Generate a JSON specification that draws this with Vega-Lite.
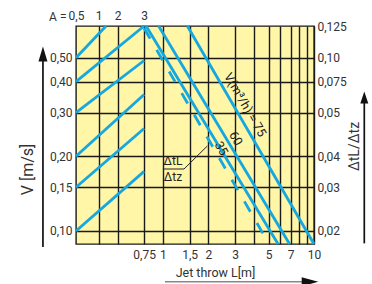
{
  "$schema": "https://vega.github.io/schema/vega-lite/v6.json",
  "width": 238,
  "height": 218,
  "autosize": {"type": "none"},
  "padding": {"left": 76, "top": 26, "right": 58, "bottom": 40},
  "background": "#ffffff",
  "config": {
    "view": {"fill": "#fff6a8", "stroke": "#1a1a1a", "strokeWidth": 1.4},
    "axis": {
      "labelFont": "Roboto", "titleFont": "Roboto", "labelColor": "#333333", "titleColor": "#333333",
      "labelFontSize": 12, "domain": false, "ticks": false, "tickSize": 0, "labelFlush": false,
      "labelOverlap": false, "titleFontWeight": "normal", "gridColor": "#1a1a1a", "gridWidth": 1.4, "gridOpacity": 1
    },
    "text": {"font": "Roboto"}
  },
  "datasets": {
    "rising": [
      {"id": "r1", "L": 0.2655, "V": 0.5}, {"id": "r1", "L": 0.42, "V": 0.671},
      {"id": "r2", "L": 0.2655, "V": 0.4}, {"id": "r2", "L": 0.75, "V": 0.671},
      {"id": "r3", "L": 0.2655, "V": 0.3}, {"id": "r3", "L": 0.75, "V": 0.487},
      {"id": "r4", "L": 0.2655, "V": 0.2}, {"id": "r4", "L": 0.75, "V": 0.355},
      {"id": "r5", "L": 0.2655, "V": 0.15}, {"id": "r5", "L": 0.75, "V": 0.259},
      {"id": "r6", "L": 0.2655, "V": 0.1}, {"id": "r6", "L": 0.75, "V": 0.174}
    ],
    "falling": [
      {"id": "a", "L": 0.773, "V": 0.671}, {"id": "a", "L": 5.78, "V": 0.0886},
      {"id": "60", "L": 0.936, "V": 0.671}, {"id": "60", "L": 6.89, "V": 0.0886},
      {"id": "75", "L": 1.45, "V": 0.671}, {"id": "75", "L": 10, "V": 0.0886}
    ],
    "dashed": [{"id": "35", "L": 0.75, "V": 0.657}, {"id": "35", "L": 5.02, "V": 0.089}],
    "leader": [{"L": 0.998, "V": 0.1778}, {"L": 1.378, "V": 0.1778}, {"L": 1.966, "V": 0.2201}],
    "rot": [
      {"t": "V(m³/h) = 75", "L": 3.5, "V": 0.3225},
      {"t": "60", "L": 3.03, "V": 0.236},
      {"t": "35", "L": 2.43, "V": 0.215}
    ],
    "frac": [{"t": "ΔtL", "L": 1.165, "V": 0.1915}, {"t": "Δtz", "L": 1.165, "V": 0.165}],
    "arrows": [
      {"id": "left", "L": 0.1604, "V": 0.4846}, {"id": "left", "L": 0.1604, "V": 0.0861},
      {"id": "right", "L": 21.53, "V": 0.3282}, {"id": "right", "L": 21.53, "V": 0.0891}
    ],
    "baseline": [{"id": "bottom", "L": 1.031, "V": 0.0624}, {"id": "bottom", "L": 8.33, "V": 0.0624}],
    "headLeft": [{"L": 0.1604, "V": 0.5173}],
    "headRight": [{"L": 21.53, "V": 0.3453}],
    "headBottom": [{"L": 9.408, "V": 0.0624}]
  },
  "encoding": {
    "x": {"field": "L", "type": "quantitative", "scale": {"type": "log", "domain": [0.2655, 10], "nice": false, "zero": false}, "axis": null},
    "y": {"field": "V", "type": "quantitative", "scale": {"type": "log", "domain": [0.0886, 0.671], "nice": false, "zero": false}, "axis": null}
  },
  "layer": [
    {
      "data": {"name": "rising"},
      "mark": {"type": "line", "color": "#14a7e0", "strokeWidth": 2.8},
      "encoding": {
        "detail": {"field": "id"},
        "x": {"field": "L", "type": "quantitative", "scale": {"type": "log", "domain": [0.2655, 10], "nice": false, "zero": false},
          "axis": {"orient": "bottom", "values": [0.375, 0.5, 0.75, 1, 1.5, 2, 3, 4, 5, 6, 7, 8, 9, 10], "grid": true,
            "labelExpr": "indexof([0.75,1,1.5,2,3,5,7,10], datum.value) >= 0 ? replace(toString(datum.value), '.', ',') : ''",
            "labelPadding": 5, "title": "Jet throw L[m]", "titleFontSize": 12.5, "titleX": 139, "titleY": 28,
            "titleAlign": "center", "titleBaseline": "middle"}},
        "y": {"field": "V", "type": "quantitative", "scale": {"type": "log", "domain": [0.0886, 0.671], "nice": false, "zero": false},
          "axis": {"orient": "left", "values": [0.1, 0.15, 0.2, 0.3, 0.4, 0.5], "grid": true,
            "labelExpr": "replace(format(datum.value, '.2f'), '.', ',')", "labelPadding": 4,
            "title": "V [m/s]", "titleFontSize": 16, "titleX": -49, "titleY": 143, "titleAngle": -90,
            "titleAlign": "center", "titleBaseline": "middle"}}
      }
    },
    {
      "data": {"name": "falling"},
      "mark": {"type": "line", "color": "#14a7e0", "strokeWidth": 2.8},
      "encoding": {
        "detail": {"field": "id"},
        "x": {"field": "L", "type": "quantitative", "scale": {"type": "log", "domain": [0.2655, 10], "nice": false, "zero": false},
          "axis": {"orient": "top", "values": [0.2655, 0.375, 0.5, 0.75], "grid": false,
            "labelExpr": "datum.value < 0.3 ? '0,5' : datum.value < 0.4 ? '1' : datum.value < 0.6 ? '2' : '3'",
            "labelPadding": 4, "title": "A =", "titleFontSize": 12, "titleX": -10, "titleY": -10,
            "titleAlign": "right", "titleBaseline": "middle", "titleAngle": 0}},
        "y": {"field": "V", "type": "quantitative", "scale": {"type": "log", "domain": [0.0886, 0.671], "nice": false, "zero": false},
          "axis": {"orient": "right", "values": [0.1, 0.15, 0.2, 0.3, 0.4, 0.5, 0.671], "grid": false,
            "labelExpr": "datum.value > 0.6 ? '0,125' : datum.value > 0.45 ? '0,10' : datum.value > 0.35 ? '0,075' : datum.value > 0.25 ? '0,05' : datum.value > 0.175 ? '0,04' : datum.value > 0.125 ? '0,03' : '0,02'",
            "labelPadding": 3, "title": "ΔtL/Δtz", "titleFontSize": 14, "titleX": 40, "titleY": 120, "titleAngle": -90,
            "titleAlign": "center", "titleBaseline": "middle"}}
      }
    },
    {
      "data": {"name": "dashed"},
      "mark": {"type": "line", "color": "#14a7e0", "strokeWidth": 2.8, "strokeDash": [12, 13]},
      "encoding": {"detail": {"field": "id"}}
    },
    {
      "data": {"name": "leader"},
      "mark": {"type": "line", "color": "#222222", "strokeWidth": 1},
      "encoding": {}
    },
    {
      "data": {"name": "rot"},
      "mark": {"type": "text", "angle": 60, "fontSize": 12.5, "color": "#222222", "align": "center", "baseline": "middle"},
      "encoding": {"text": {"field": "t"}}
    },
    {
      "data": {"name": "frac"},
      "mark": {"type": "text", "fontSize": 12, "color": "#222222", "align": "center", "baseline": "middle"},
      "encoding": {"text": {"field": "t"}}
    },
    {
      "data": {"name": "arrows"},
      "mark": {"type": "line", "color": "#111111", "strokeWidth": 1.7},
      "encoding": {"detail": {"field": "id"}}
    },
    {
      "data": {"name": "baseline"},
      "mark": {"type": "line", "color": "#888888", "strokeWidth": 1.4},
      "encoding": {"detail": {"field": "id"}}
    },
    {
      "data": {"name": "headLeft"},
      "mark": {"type": "point", "shape": "M0,-1L0.6,1L-0.6,1Z", "size": 225, "filled": true, "color": "#111111", "opacity": 1, "strokeWidth": 0}
    },
    {
      "data": {"name": "headRight"},
      "mark": {"type": "point", "shape": "M0,-1L0.667,1L-0.667,1Z", "size": 144, "filled": true, "color": "#111111", "opacity": 1, "strokeWidth": 0}
    },
    {
      "data": {"name": "headBottom"},
      "mark": {"type": "point", "shape": "M1,0L-1,0.55L-1,-0.55Z", "size": 276, "filled": true, "color": "#111111", "opacity": 1, "strokeWidth": 0}
    }
  ],
  "resolve": {"scale": {"x": "shared", "y": "shared"}, "axis": {"x": "independent", "y": "independent"}}
}
